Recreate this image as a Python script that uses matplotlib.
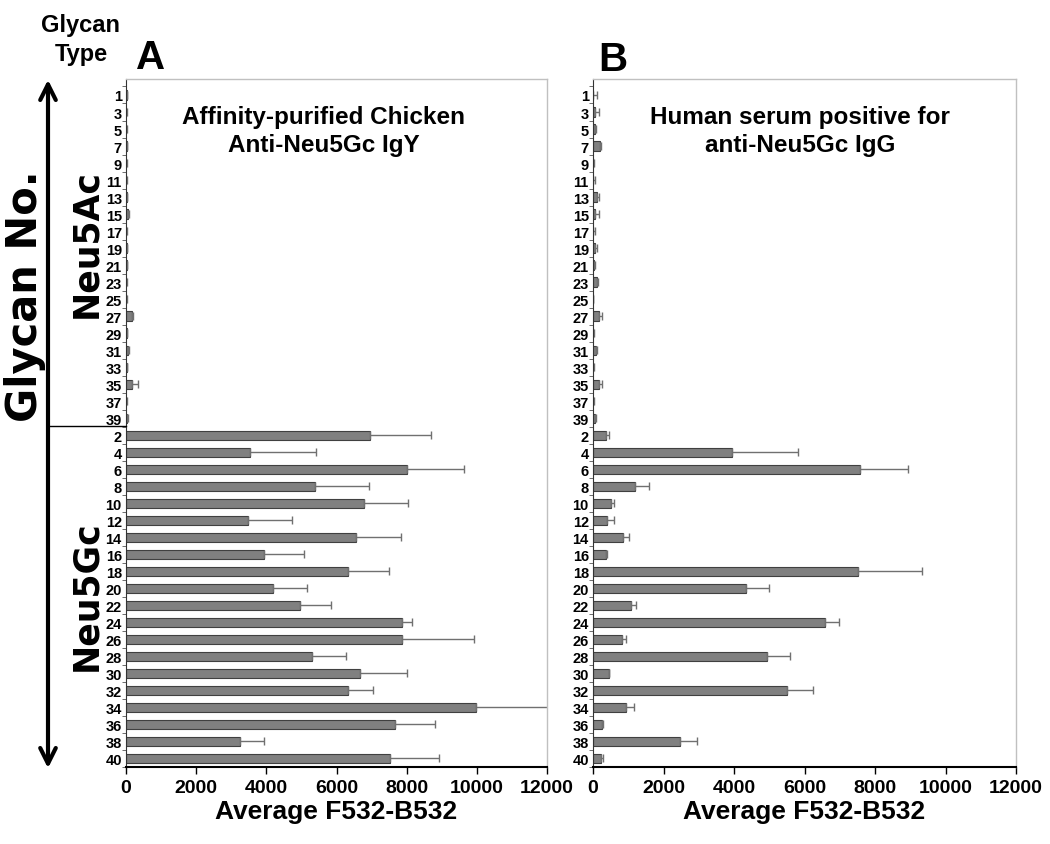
import numpy as np
import matplotlib
matplotlib.use("Agg")
import matplotlib.pyplot as plt

# glycan numbers, top to bottom
glycan_ac = [1, 3, 5, 7, 9, 11, 13, 15, 17, 19, 21, 23, 25, 27, 29, 31, 33, 35, 37, 39]
glycan_gc = [2, 4, 6, 8, 10, 12, 14, 16, 18, 20, 22, 24, 26, 28, 30, 32, 34, 36, 38, 40]

# panel A: affinity-purified chicken anti-Neu5Gc IgY
chicken_ac = [15, 10, 10, 30, 10, 10, 30, 60, 10, 15, 15, 10, 10, 170, 20, 50, 20, 170, 10, 40]
chicken_ac_err = [10, 10, 10, 10, 5, 5, 10, 20, 5, 10, 5, 5, 5, 40, 5, 30, 5, 160, 5, 10]
chicken_gc = [6950, 3540, 8020, 5390, 6770, 3470, 6550, 3920, 6330, 4180,
              4970, 7870, 7870, 5310, 6670, 6320, 9970, 7680, 3240, 7520]
chicken_gc_err = [1750, 1880, 1620, 1550, 1280, 1250, 1290, 1140, 1170, 980,
                  860, 290, 2040, 970, 1350, 710, 2090, 1120, 680, 1390]

# panel B: human serum positive for anti-Neu5Gc IgG
human_ac = [10, 50, 70, 210, 10, 5, 125, 60, 10, 70, 20, 120, 5, 170, 5, 95, 10, 170, 5, 50]
human_ac_err = [90, 110, 10, 30, 10, 55, 45, 100, 60, 30, 30, 20, 5, 95, 25, 5, 10, 95, 10, 45]
human_gc = [360, 3930, 7580, 1180, 500, 390, 850, 360, 7530, 4330,
            1080, 6570, 810, 4950, 440, 5510, 930, 260, 2470, 220]
human_gc_err = [80, 1880, 1350, 420, 90, 200, 180, 50, 1810, 660,
                130, 410, 140, 630, 10, 720, 220, 10, 480, 60]

x_ticks = [0, 2000, 4000, 6000, 8000, 10000, 12000]

W, H = 1050, 845
SANS = ["Liberation Sans", "DejaVu Sans"]


def fx(x):
    return x / W


def fy(y):
    return 1 - y / H


def draw_panel(ax, vals, errs, title, title_x):
    labels = [str(g) for g in glycan_ac + glycan_gc]
    pos = np.arange(len(labels))
    err = np.array(errs)
    ax.barh(pos, vals, height=0.55, color="#808080", edgecolor="#404040",
            linewidth=0.8, xerr=[np.zeros_like(err), err],
            error_kw=dict(ecolor="#707070", elinewidth=1, capsize=3, capthick=1))
    ax.set_xlim(0, 12000)
    ax.set_ylim(39.41, -0.94)
    ax.set_yticks(pos)
    ax.set_yticklabels(labels, family=SANS, fontweight="bold", fontsize=10.5)
    ax.set_yticks(np.arange(-0.5, 39.6, 1), minor=True)
    ax.tick_params(axis="y", which="major", length=0, pad=3)
    ax.tick_params(axis="y", which="minor", length=3, width=0.6, color="#555555")
    ax.set_xticks(x_ticks)
    ax.set_xticklabels([str(t) for t in x_ticks], family=SANS,
                       fontweight="bold", fontsize=14)
    ax.tick_params(axis="x", length=5, width=1, pad=4)
    ax.set_xlabel("Average F532-B532", family=SANS, fontweight="bold",
                  fontsize=19, labelpad=2)
    for side in ("top", "right"):
        ax.spines[side].set_color("#c0c0c0")
        ax.spines[side].set_linewidth(1)
    ax.spines["left"].set_color("#333333")
    ax.spines["left"].set_linewidth(0.8)
    ax.spines["bottom"].set_color("black")
    ax.spines["bottom"].set_linewidth(1.5)
    ax.text(title_x, 0.925, title, transform=ax.transAxes, ha="center",
            va="center", family=SANS, fontweight="bold", fontsize=17.5,
            linespacing=1.25)


fig = plt.figure(figsize=(W / 100, H / 100), dpi=100)
ax_a = fig.add_axes([fx(126), fy(768), (547 - 126) / W, (768 - 80) / H])
ax_b = fig.add_axes([fx(593), fy(768), (1016 - 593) / W, (768 - 80) / H])

draw_panel(ax_a, chicken_ac + chicken_gc, chicken_ac_err + chicken_gc_err,
           "Affinity-purified Chicken\nAnti-Neu5Gc IgY", 0.47)
draw_panel(ax_b, human_ac + human_gc, human_ac_err + human_gc_err,
           "Human serum positive for\nanti-Neu5Gc IgG", 0.49)

# panel letters and header
fig.text(fx(151), fy(58), "A", family=SANS, fontweight="bold", fontsize=29,
         ha="center", va="center")
fig.text(fx(613), fy(60), "B", family=SANS, fontweight="bold", fontsize=29,
         ha="center", va="center")
fig.text(fx(81), fy(40), "Glycan\nType", family=SANS, fontweight="bold",
         fontsize=17, ha="center", va="center", linespacing=1.3)

# left-hand annotation: arrow, divider, group names
fig.add_artist(matplotlib.patches.FancyArrowPatch(
    (fx(48), fy(772)), (fx(48), fy(78)), transform=fig.transFigure,
    arrowstyle="<->", mutation_scale=28, linewidth=3, color="black"))
fig.add_artist(matplotlib.lines.Line2D([fx(48), fx(126)], [fy(427), fy(427)],
                                       transform=fig.transFigure,
                                       color="black", linewidth=1))
fig.text(fx(25), fy(296), "Glycan No.", family=["DejaVu Sans"], fontweight="bold",
         fontsize=30, rotation=90, ha="center", va="center")
fig.text(fx(86), fy(243), "Neu5Ac", family=["DejaVu Sans"], fontweight="bold",
         fontsize=25, rotation=90, ha="center", va="center")
fig.text(fx(86), fy(596), "Neu5Gc", family=["DejaVu Sans"], fontweight="bold",
         fontsize=25, rotation=90, ha="center", va="center")

fig.savefig("out.png", dpi=100)
